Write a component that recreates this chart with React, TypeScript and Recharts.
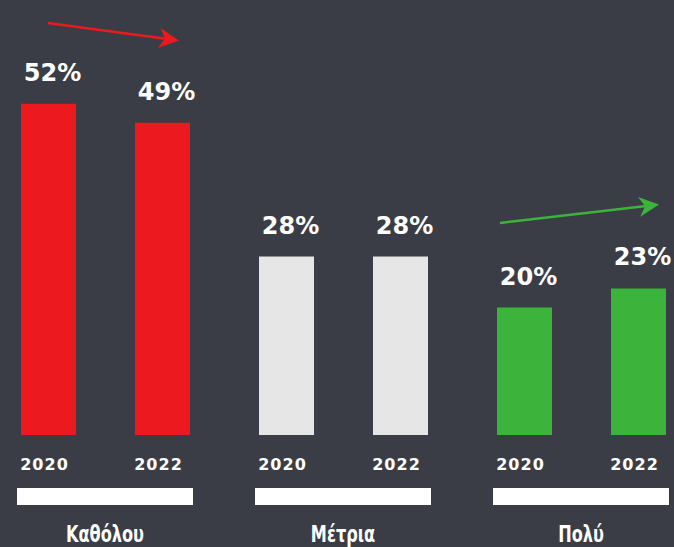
import React from 'react';
import { BarChart, Bar, XAxis, YAxis, Cell, LabelList } from 'recharts';

const categories = ['Καθόλου', 'Μέτρια', 'Πολύ'];
const years = ['2020', '2022'];
const values2020 = [52, 28, 20];
const values2022 = [49, 28, 23];
const groupColors = ['#ec1a1e', '#e6e6e6', '#3cb43c'];

const BG = '#3a3d45';

const chartData = categories.map((name, i) => ({
  name,
  y2020: values2020[i],
  y2022: values2022[i],
}));

const CategoryTick = ({ x, y, payload }: any) => (
  <g>
    <rect x={x - 88} y={y + 53} width={176} height={17} fill="#ffffff" />
    <text
      x={x}
      y={y + 107}
      textAnchor="middle"
      fill="#ffffff"
      fontSize={23}
      fontWeight="bold"
      fontFamily="'DejaVu Sans Condensed', 'Liberation Sans Narrow', sans-serif"
      style={{ fontStretch: 'condensed' }}
      transform={`translate(${x} 0) scale(0.78 1) translate(${-x} 0)`}
    >
      {payload.value}
    </text>
  </g>
);

const valueLabel = (props: any) => {
  const { x, y, width, value } = props;
  return (
    <text
      x={x + width / 2 + 4}
      y={y - 23}
      textAnchor="middle"
      fill="#ffffff"
      fontSize={24}
      fontWeight="bold"
      fontFamily="'DejaVu Sans', sans-serif"
    >
      {value}%
    </text>
  );
};

const yearLabel = (year: string) => (props: any) => {
  const { x, y, width, height } = props;
  return (
    <text
      x={x + width / 2 - 4}
      y={y + height + 35}
      textAnchor="middle"
      fill="#ffffff"
      fontSize={16}
      fontWeight="bold"
      letterSpacing={1}
      fontFamily="'DejaVu Sans', sans-serif"
    >
      {year}
    </text>
  );
};

export default function App() {
  return (
    <div
      style={{
        position: 'absolute',
        left: 0,
        top: 0,
        width: 674,
        height: 547,
        overflow: 'hidden',
        background: BG,
      }}
    >
      <div style={{ position: 'absolute', left: -14, top: 0 }}>
        <BarChart
          width={714}
          height={547}
          data={chartData}
          margin={{ top: 40, right: 0, left: 0, bottom: 0 }}
          barSize={55}
          barGap={59}
        >
          <XAxis
            dataKey="name"
            height={112}
            axisLine={false}
            tickLine={false}
            tickSize={0}
            tickMargin={0}
            interval={0}
            tick={<CategoryTick />}
          />
          <YAxis hide domain={[0, 62]} />
          <Bar dataKey="y2020" isAnimationActive={false}>
            {chartData.map((_, i) => (
              <Cell key={`a-${i}`} fill={groupColors[i]} />
            ))}
            <LabelList dataKey="y2020" content={valueLabel} />
            <LabelList dataKey="y2020" content={yearLabel(years[0])} />
          </Bar>
          <Bar dataKey="y2022" isAnimationActive={false}>
            {chartData.map((_, i) => (
              <Cell key={`b-${i}`} fill={groupColors[i]} />
            ))}
            <LabelList dataKey="y2022" content={valueLabel} />
            <LabelList dataKey="y2022" content={yearLabel(years[1])} />
          </Bar>
        </BarChart>
      </div>
      {/* trend arrows */}
      <svg
        width={674}
        height={547}
        style={{ position: 'absolute', left: 0, top: 0, pointerEvents: 'none' }}
      >
        <defs>
          <marker id="headRed" viewBox="0 0 10 10" refX="8" refY="5" markerWidth="8" markerHeight="8" orient="auto">
            <path d="M0,0 L10,5 L0,10 L3,5 z" fill="#ec1a1e" />
          </marker>
          <marker id="headGreen" viewBox="0 0 10 10" refX="8" refY="5" markerWidth="8" markerHeight="8" orient="auto">
            <path d="M0,0 L10,5 L0,10 L3,5 z" fill="#3cb43c" />
          </marker>
        </defs>
        <line x1={48} y1={23} x2={175} y2={40} stroke="#ec1a1e" strokeWidth={2.5} markerEnd="url(#headRed)" />
        <line x1={500} y1={223} x2={655} y2={205} stroke="#3cb43c" strokeWidth={2.5} markerEnd="url(#headGreen)" />
      </svg>
    </div>
  );
}
